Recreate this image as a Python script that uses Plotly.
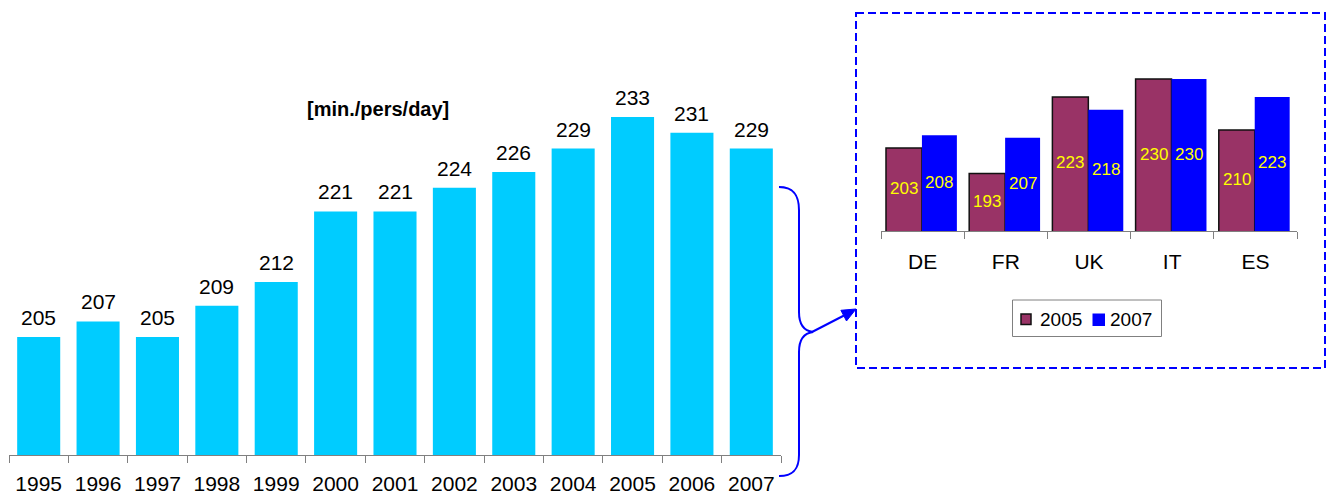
import plotly.graph_objects as go

# Daily time per person, yearly series (minutes)
years = ["1995", "1996", "1997", "1998", "1999", "2000", "2001",
         "2002", "2003", "2004", "2005", "2006", "2007"]
minutes = [205, 207, 205, 209, 212, 221, 221, 224, 226, 229, 233, 231, 229]

# Country comparison, 2005 vs 2007
countries = ["DE", "FR", "UK", "IT", "ES"]
values_2005 = [203, 193, 223, 230, 210]
values_2007 = [208, 207, 218, 230, 223]
series_names = ["2005", "2007"]

W, H = 1331, 495
FONT = "Liberation Sans, Arial, sans-serif"
BLUE = "#0000FF"
PLUM = "#993366"
INSET_MIN, INSET_MAX = 170.4, 237.5

# bar geometry of the inset (offset, width in category units)
BAR_2005 = (-0.44, 0.432)
BAR_2007 = (-0.008, 0.42)


def px(x):
    return x / W


def py(y):
    return 1 - y / H


def pt(x, y):
    return f"{px(x):.5f},{py(y):.5f}"


fig = go.Figure()

fig.add_trace(go.Bar(
    x=years, y=minutes, width=0.725,
    marker=dict(color="#00CCFF", line=dict(width=0)),
    showlegend=False, xaxis="x", yaxis="y", hoverinfo="skip",
))

fig.add_trace(go.Bar(
    x=countries, y=values_2005, name=series_names[0],
    offset=BAR_2005[0], width=BAR_2005[1],
    marker=dict(color=PLUM, line=dict(color="#111111", width=1.5)),
    xaxis="x2", yaxis="y2", showlegend=False,
))
fig.add_trace(go.Bar(
    x=countries, y=values_2007, name=series_names[1],
    offset=BAR_2007[0], width=BAR_2007[1],
    marker=dict(color=BLUE, line=dict(width=0)),
    xaxis="x2", yaxis="y2", showlegend=False,
))

# Value labels above the yearly bars (category index positions)
annotations = [
    dict(x=i, y=v, xref="x", yref="y", text=str(v), showarrow=False,
         yanchor="bottom", yshift=6, font=dict(size=21, color="black", family=FONT))
    for i, v in enumerate(minutes)
]

# Value labels centred in the visible part of each inset bar
for vals, (off, wid) in ((values_2005, BAR_2005), (values_2007, BAR_2007)):
    for i, v in enumerate(vals):
        annotations.append(dict(
            x=i + off + wid / 2, y=(v + INSET_MIN) / 2, xref="x2", yref="y2",
            text=str(v), showarrow=False, xanchor="center", yanchor="middle",
            yshift=1, font=dict(size=17, color="#FFFF00", family=FONT),
        ))

annotations.append(dict(
    x=px(378), y=py(109), xref="paper", yref="paper", text="<b>[min./pers/day]</b>",
    showarrow=False, xanchor="center", yanchor="middle",
    font=dict(size=20, color="black", family=FONT),
))

# Legend for the inset chart
annotations += [
    dict(x=px(1038), y=py(319), xref="paper", yref="paper", text=series_names[0],
         showarrow=False, xanchor="left", yanchor="middle",
         font=dict(size=19, color="black", family=FONT)),
    dict(x=px(1108), y=py(319), xref="paper", yref="paper", text=series_names[1],
         showarrow=False, xanchor="left", yanchor="middle",
         font=dict(size=19, color="black", family=FONT)),
]

# Curly brace from the last yearly bar, plus arrow to the inset box
brace = ("M" + pt(779, 187) + " C" + pt(795, 187) + " " + pt(799, 197) + " " + pt(799, 210)
         + " L" + pt(799, 312) + " C" + pt(799, 325) + " " + pt(805, 331) + " " + pt(813, 332)
         + " C" + pt(805, 333) + " " + pt(799, 339) + " " + pt(799, 352)
         + " L" + pt(799, 455) + " C" + pt(799, 467) + " " + pt(795, 476) + " " + pt(779, 476))
head = ("M" + pt(856, 309) + " L" + pt(846.5, 321) + " L" + pt(840.9, 310.3) + " Z")

shapes = [
    dict(type="path", path=brace, xref="paper", yref="paper",
         line=dict(color=BLUE, width=2)),
    dict(type="line", x0=px(812), y0=py(332), x1=px(845), y1=py(315),
         xref="paper", yref="paper", line=dict(color=BLUE, width=2)),
    dict(type="path", path=head, xref="paper", yref="paper",
         fillcolor=BLUE, line=dict(color=BLUE, width=1)),
    dict(type="rect", x0=px(856), y0=py(13), x1=px(1325), y1=py(368),
         xref="paper", yref="paper",
         line=dict(color=BLUE, width=2, dash="8px,4px")),
    # legend frame and swatches
    dict(type="rect", x0=px(1012.5), y0=py(300), x1=px(1161.5), y1=py(336.5),
         xref="paper", yref="paper", line=dict(color="#808080", width=1),
         fillcolor="white"),
    dict(type="rect", x0=px(1021), y0=py(314), x1=px(1031), y1=py(324.5),
         xref="paper", yref="paper", line=dict(color="#111111", width=1.5),
         fillcolor=PLUM),
    dict(type="rect", x0=px(1092.5), y0=py(313.5), x1=px(1105), y1=py(326),
         xref="paper", yref="paper", line=dict(width=0), fillcolor=BLUE),
]

axis_common = dict(
    type="category", automargin=False,
    showline=True, linecolor="#808080", linewidth=1, tickangle=0,
    ticks="outside", tickson="boundaries", ticklen=7, tickcolor="#808080",
    tickfont=dict(size=21, color="black", family=FONT), showgrid=False,
)

fig.update_layout(
    width=W, height=H,
    margin=dict(l=0, r=0, t=0, b=0, autoexpand=False),
    paper_bgcolor="white", plot_bgcolor="white",
    font=dict(family=FONT, color="black"),
    barmode="group",
    showlegend=False,
    xaxis=dict(domain=[px(9), px(781)], anchor="y", ticklabelstandoff=10, **axis_common),
    yaxis=dict(
        domain=[py(455), 1], range=[190, 247.9], visible=False,
        showgrid=False, zeroline=False, automargin=False,
    ),
    xaxis2=dict(domain=[px(881), px(1297)], anchor="y2", ticklabelstandoff=12, **axis_common),
    yaxis2=dict(
        domain=[py(231), py(60)], range=[INSET_MIN, INSET_MAX], visible=False,
        showgrid=False, zeroline=False, automargin=False,
    ),
    annotations=annotations,
    shapes=shapes,
)

fig.write_html("out.html")
